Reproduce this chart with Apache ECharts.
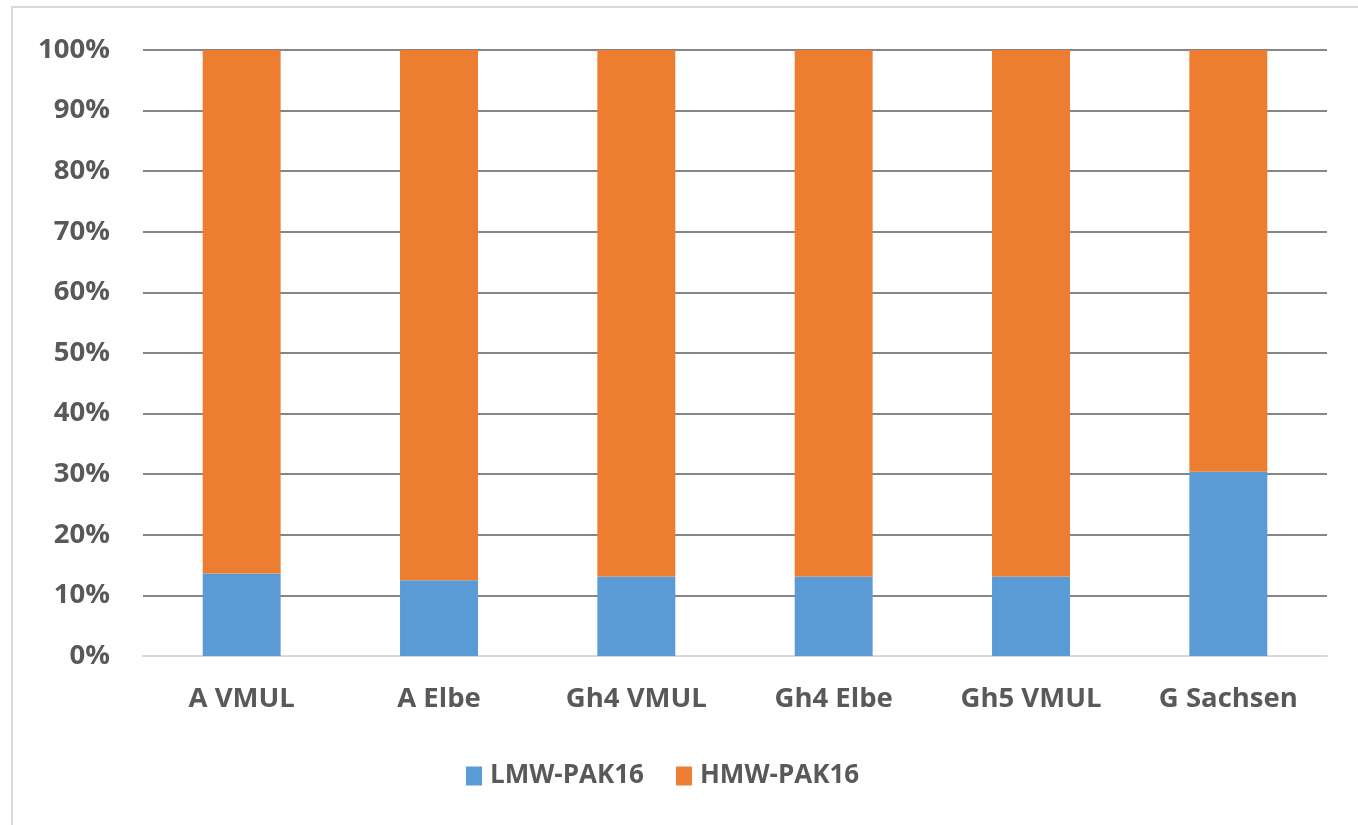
<!DOCTYPE html>
<html>
<head>
<meta charset="utf-8">
<script src="https://cdn.jsdelivr.net/npm/echarts@6/dist/echarts.min.js"></script>
<style>
  html, body { margin: 0; padding: 0; background: #ffffff; }
  #chart { width: 1358px; height: 825px; }
</style>
</head>
<body>
<div id="chart"></div>
<script>
// Share of low- and high-molecular-weight PAK16 per sample site (percent)
const categories = ['A VMUL', 'A Elbe', 'Gh4 VMUL', 'Gh4 Elbe', 'Gh5 VMUL', 'G Sachsen'];
const lmwPak16 = [13.6, 12.5, 13.1, 13.1, 13.1, 30.4];
const hmwPak16 = [86.4, 87.5, 86.9, 86.9, 86.9, 69.6];
const yTicks = { min: 0, max: 100, interval: 10 };

const textColor = '#595959';
const fontFamily = '"Open Sans", "Noto Sans", sans-serif';

const chart = echarts.init(document.getElementById('chart'), null, { renderer: 'canvas' });

chart.setOption({
  backgroundColor: '#ffffff',
  animation: false,
  graphic: [{
    type: 'rect',
    shape: { x: 12, y: 7, width: 1400, height: 900 },
    style: { fill: 'none', stroke: '#d9d9d9', lineWidth: 2 },
    silent: true,
    z: -1
  }],
  grid: { left: 143, right: 31, top: 50, bottom: 169, containLabel: false },
  legend: {
    top: 758,
    left: 461,
    itemWidth: 16,
    itemHeight: 19,
    itemGap: 32,
    icon: 'rect',
    textStyle: { color: textColor, fontSize: 26, fontWeight: 'bold', fontFamily: fontFamily, padding: [0, 0, 0, 3] },
    data: ['LMW-PAK16', 'HMW-PAK16']
  },
  xAxis: {
    type: 'category',
    data: categories,
    axisLine: { show: true, lineStyle: { color: '#d9d9d9', width: 2 } },
    axisTick: { show: false },
    axisLabel: {
      color: textColor, fontSize: 27.5, fontWeight: 'bold', fontFamily: fontFamily, margin: 29
    }
  },
  yAxis: {
    type: 'value',
    min: yTicks.min,
    max: yTicks.max,
    interval: yTicks.interval,
    axisLine: { show: false },
    axisTick: { show: false },
    splitLine: { lineStyle: { color: '#868686', width: 2 } },
    axisLabel: {
      formatter: '{value}%',
      color: textColor, fontSize: 27.5, fontWeight: 'bold', fontFamily: fontFamily, margin: 33
    }
  },
  series: [
    {
      name: 'LMW-PAK16',
      type: 'bar',
      stack: 'total',
      barWidth: '39.5%',
      itemStyle: { color: '#5b9bd5' },
      data: lmwPak16
    },
    {
      name: 'HMW-PAK16',
      type: 'bar',
      stack: 'total',
      barWidth: '39.5%',
      itemStyle: { color: '#ed7d31' },
      data: hmwPak16
    }
  ]
});
</script>
</body>
</html>
